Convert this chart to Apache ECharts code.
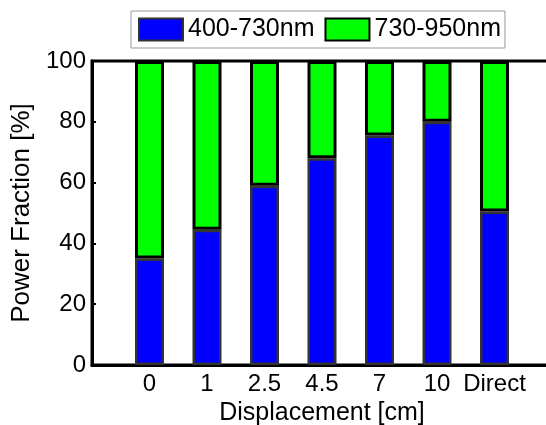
<!DOCTYPE html>
<html>
<head>
<meta charset="utf-8">
<script src="https://cdn.jsdelivr.net/npm/echarts@6/dist/echarts.min.js"></script>
<style>
  html, body { margin: 0; padding: 0; background: #fff; }
  #chart { width: 546px; height: 425px; }
</style>
</head>
<body>
<div id="chart"></div>
<script>
// 位移类别
var categories = ["0", "1", "2.5", "4.5", "7", "10", "Direct"];
// 400-730nm 占比
var visValues = [35, 44.5, 59, 68, 75.5, 80, 50.5];
// 730-950nm 占比
var nirValues = [65, 55.5, 41, 32, 24.5, 20, 49.5];
var yTicks = [0, 20, 40, 60, 80, 100];

var font = "Liberation Sans, Arial, sans-serif";

// 横轴两端各留一个空位（MATLAB 的 xlim 效果）
var xData = [""].concat(categories, [""]);
function pad(arr) {
  return [null].concat(arr, [null]);
}

var myChart = echarts.init(document.getElementById("chart"));

var option = {
  backgroundColor: "#fff",
  animation: false,
  textStyle: { fontFamily: font, color: "#000" },
  legend: {
    left: 131,
    top: 11,
    padding: [6, 4, 6, 7],
    itemWidth: 44,
    itemHeight: 22,
    itemGap: 10,
    borderColor: "#999",
    borderWidth: 1,
    backgroundColor: "#fff",
    icon: "rect",
    textStyle: { fontSize: 25, color: "#000", fontFamily: font },
    data: ["400-730nm", "730-950nm"],
  },
  grid: {
    left: 92,
    top: 61,
    width: 460,
    height: 304,
    show: true,
    borderColor: "#000",
    borderWidth: 3,
    outerBoundsMode: "none",
  },
  xAxis: {
    type: "category",
    boundaryGap: false,
    data: xData,
    name: "Displacement [cm]",
    nameLocation: "middle",
    nameGap: 33,
    nameTextStyle: { fontSize: 25, color: "#000", fontFamily: font },
    axisLine: { show: true, lineStyle: { color: "#000", width: 3 } },
    axisTick: { show: false },
    splitLine: { show: false },
    axisLabel: {
      interval: 0,
      fontSize: 24,
      color: "#000",
      fontFamily: font,
      margin: 7,
    },
  },
  yAxis: {
    type: "value",
    min: 0,
    max: 100,
    interval: 20,
    name: "Power Fraction [%]",
    nameLocation: "middle",
    nameGap: 57,
    nameTextStyle: { fontSize: 26, color: "#000", fontFamily: font },
    axisLine: { show: true, lineStyle: { color: "#000", width: 3 } },
    axisTick: { show: true, inside: true, length: 4, lineStyle: { color: "#000", width: 2 } },
    splitLine: { show: false },
    axisLabel: {
      fontSize: 24,
      color: "#000",
      fontFamily: font,
      margin: 6,
      formatter: function (v) {
        return yTicks.indexOf(v) >= 0 ? String(v) : "";
      },
    },
  },
  series: [
    {
      name: "400-730nm",
      type: "bar",
      stack: "total",
      barWidth: 29,
      itemStyle: {
        color: "#0000ff",
        borderColor: "#333",
        borderWidth: 2.5,
      },
      data: pad(visValues),
    },
    {
      name: "730-950nm",
      type: "bar",
      stack: "total",
      barWidth: 29,
      itemStyle: {
        color: "#00ff00",
        borderColor: "#000",
        borderWidth: 3,
      },
      data: pad(nirValues),
    },
  ],
};

myChart.setOption(option);
</script>
</body>
</html>
